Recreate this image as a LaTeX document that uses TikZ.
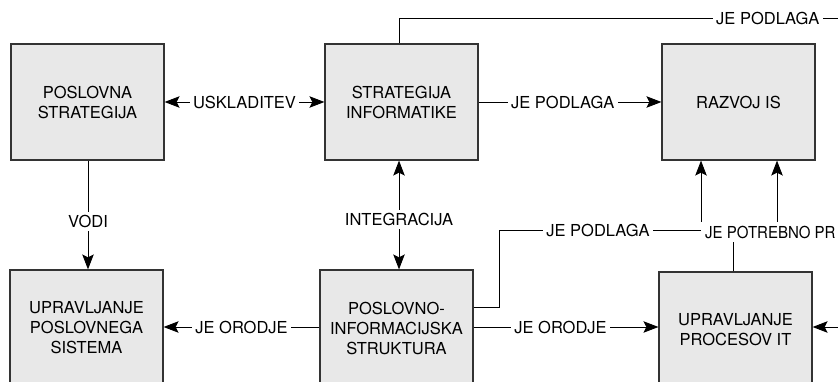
\documentclass[tikz,border=0pt]{standalone}
\usepackage{fontspec}
\setmainfont{TeX Gyre Heros}
\newfontfamily\condfont[FakeStretch=0.91]{TeX Gyre Heros}
\usetikzlibrary{arrows.meta,calc}
\definecolor{boxfill}{HTML}{E8E8E8}
\definecolor{boxline}{HTML}{333333}
\begin{document}
\begin{tikzpicture}[x=1pt,y=-1pt,
  txt/.style={font=\fontsize{16.5}{20}\selectfont},
  box/.style={txt, draw=boxline, line width=1.2pt, fill=boxfill, minimum width=153pt, minimum height=116pt, align=center, inner sep=0pt},
  conn/.style={line width=0.9pt, draw=black},
  tip/.tip={Stealth[length=15pt,width=11.5pt,inset=3pt]},
  arr/.style={-tip},
  darr/.style={tip-tip},
  lbl/.style={txt, fill=white, inner sep=3.5pt}]
\clip (0,0) rectangle (838,382);
\fill[white] (0,0) rectangle (838,382);
% boxes
\node[box] (b1) at (87.5,102) {POSLOVNA\\STRATEGIJA};
\node[box] (b2) at (401.5,102) {STRATEGIJA\\INFORMATIKE};
\node[box] (b3) at (738.5,102) {RAZVOJ IS};
\node[box] (b4) at (86.5,328) {UPRAVLJANJE\\POSLOVNEGA\\SISTEMA};
\node[box] (b5) at (396.5,328) {POSLOVNO-\\INFORMACIJSKA\\STRUKTURA};
\node[box] (b6) at (735.5,330) {UPRAVLJANJE\\PROCESOV IT};
% helper coordinates
\coordinate (vx) at (88,0);
\coordinate (ix) at (399,0);
\coordinate (yo) at (0,327);
\coordinate (yp) at (0,307);
\coordinate (p1) at (499,230);
\coordinate (p2) at (701,230);
\coordinate (q1) at (733,232);
\coordinate (q2) at (777,232);
\coordinate (t1) at (399,18);
\coordinate (tr) at (860,18);
\coordinate (rr) at (860,327);
% connectors
\draw[conn,darr] (b1) -- (b2) node[lbl,pos=0.5] {USKLADITEV};
\draw[conn,arr] (b2) -- (b3) node[lbl,pos=0.46] {JE PODLAGA};
\draw[conn,arr] (b1.south -| vx) -- (b4.north -| vx) node[lbl,pos=0.56] {VODI};
\draw[conn,darr] (b2.south -| ix) -- (b5.north -| ix) node[lbl,pos=0.54] {INTEGRACIJA};
\draw[conn,arr] (b5.west |- yo) -- (b4.east |- yo) node[lbl,pos=0.5] {JE ORODJE};
\draw[conn,arr] (b5.east |- yo) -- (b6.west |- yo) node[lbl,pos=0.47] {JE ORODJE};
\draw[conn,arr] (b5.east |- yp) -| (p1) -- (p2) node[lbl,pos=0.49] {JE PODLAGA} -- (p2 |- b3.south);
\draw[conn,arr] (b6.north -| q1) -- (q1) -- (q2) -- (q2 |- b3.south);
\node[lbl, anchor=west, inner sep=4pt, font=\condfont\fontsize{16.5}{20}\selectfont] (lp) at (701,232) {JE POTREBNO PR};
\draw[conn] (b2.north -| t1) -- (t1) -- (tr) node[lbl,pos=0.80] {JE PODLAGA};
\draw[conn,arr] (rr) -- (b6.east |- rr);
\end{tikzpicture}
\end{document}
